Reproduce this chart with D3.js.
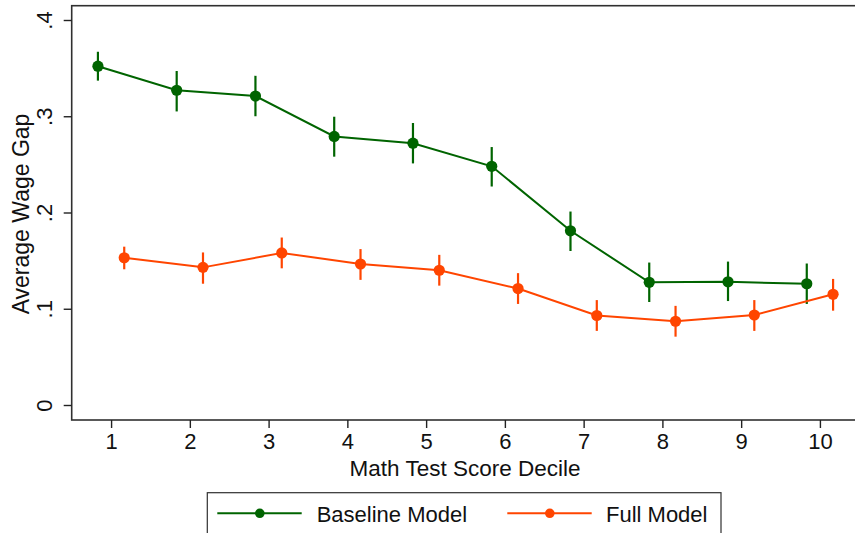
<!DOCTYPE html>
<html>
<head>
<meta charset="utf-8">
<script src="https://cdn.jsdelivr.net/npm/d3@7"></script>
<style>
  html, body { margin: 0; padding: 0; background: #fff; }
  svg { display: block; font-family: "Liberation Sans", Arial, Helvetica, sans-serif; }
</style>
</head>
<body>
<svg id="chart" width="855" height="533"></svg>
<script>
// Average wage gap by math test score decile, two model specifications
const deciles = [1, 2, 3, 4, 5, 6, 7, 8, 9, 10];

const baseline   = [0.352, 0.327, 0.321, 0.279, 0.272, 0.248, 0.181, 0.1275, 0.128, 0.126];
const baselineLo = [0.337, 0.305, 0.300, 0.258, 0.251, 0.227, 0.160, 0.107, 0.108, 0.105];
const baselineHi = [0.367, 0.347, 0.342, 0.2995, 0.293, 0.268, 0.201, 0.148, 0.149, 0.147];

const full   = [0.153, 0.143, 0.158, 0.1465, 0.140, 0.121, 0.093, 0.087, 0.0935, 0.115];
const fullLo = [0.141, 0.126, 0.142, 0.130, 0.124, 0.105, 0.077, 0.071, 0.077, 0.098];
const fullHi = [0.1645, 0.1585, 0.174, 0.162, 0.156, 0.137, 0.109, 0.103, 0.109, 0.131];

const yTicks = [0, 0.1, 0.2, 0.3, 0.4];
const yTickLabels = ["0", ".1", ".2", ".3", ".4"];
const seriesNames = ["Baseline Model", "Full Model"];
const seriesColors = ["#006400", "#ff4500"];

const svg = d3.select("#chart");
const FONT = 22;

const plot = { left: 71.7, top: 5.7, right: 859.3, bottom: 420 };

const x = d3.scaleLinear().domain([0.5, 10.5]).range([plot.left, plot.right]);
const y = d3.scaleLinear().domain([0, 0.4]).range([405, 20]);

// plot region outline
svg.append("rect")
  .attr("x", plot.left).attr("y", plot.top)
  .attr("width", plot.right - plot.left).attr("height", plot.bottom - plot.top)
  .attr("fill", "none").attr("stroke", "#303030").attr("stroke-width", 1.6);

// y axis
const yAxis = svg.append("g")
  .attr("transform", `translate(${plot.left},0)`)
  .call(d3.axisLeft(y).tickValues(yTicks)
    .tickFormat((d, i) => yTickLabels[i]).tickSize(8).tickSizeOuter(0));
yAxis.select(".domain").remove();
yAxis.selectAll(".tick line").attr("stroke", "#222").attr("stroke-width", 1.4);
yAxis.selectAll(".tick text")
  .attr("x", 0).attr("y", 0).attr("dy", 0)
  .attr("transform", "translate(-20,0) rotate(-90)")
  .attr("text-anchor", "middle")
  .attr("font-size", FONT).attr("font-family", "Liberation Sans, Arial, sans-serif")
  .attr("fill", "#111");

// x axis
const xAxis = svg.append("g")
  .attr("transform", `translate(0,${plot.bottom})`)
  .call(d3.axisBottom(x).tickValues(deciles).tickFormat(d3.format("d"))
    .tickSize(8).tickPadding(5).tickSizeOuter(0));
xAxis.select(".domain").remove();
xAxis.selectAll(".tick line").attr("stroke", "#222").attr("stroke-width", 1.4);
xAxis.selectAll(".tick text")
  .attr("font-size", FONT).attr("font-family", "Liberation Sans, Arial, sans-serif")
  .attr("fill", "#111");

// axis titles
svg.append("text")
  .attr("x", 465).attr("y", 475.5)
  .attr("text-anchor", "middle").attr("font-size", 22.5).attr("fill", "#111")
  .text("Math Test Score Decile");

svg.append("text")
  .attr("transform", "translate(28.5,214) rotate(-90)")
  .attr("text-anchor", "middle").attr("font-size", 23).attr("fill", "#111")
  .text("Average Wage Gap");

// series
const OFFSET = 0.167;
const series = [
  { name: seriesNames[0], color: seriesColors[0], shift: -OFFSET, v: baseline, lo: baselineLo, hi: baselineHi },
  { name: seriesNames[1], color: seriesColors[1], shift: OFFSET, v: full, lo: fullLo, hi: fullHi }
];

const line = d3.line().x(d => x(d.x)).y(d => y(d.v));

series.forEach(s => {
  const pts = deciles.map((d, i) => ({ x: d + s.shift, v: s.v[i], lo: s.lo[i], hi: s.hi[i] }));
  const g = svg.append("g");
  g.append("path").datum(pts)
    .attr("d", line).attr("fill", "none")
    .attr("stroke", s.color).attr("stroke-width", 2);
  g.selectAll("line.err").data(pts).enter().append("line")
    .attr("class", "err")
    .attr("x1", d => x(d.x)).attr("x2", d => x(d.x))
    .attr("y1", d => y(d.lo)).attr("y2", d => y(d.hi))
    .attr("stroke", s.color).attr("stroke-width", 2.2);
  g.selectAll("circle").data(pts).enter().append("circle")
    .attr("cx", d => x(d.x)).attr("cy", d => y(d.v))
    .attr("r", 5.6).attr("fill", s.color);
});

// legend
const legend = svg.append("g");
legend.append("rect")
  .attr("x", 207.3).attr("y", 492.7).attr("width", 513.7).attr("height", 60)
  .attr("fill", "#fff").attr("stroke", "#303030").attr("stroke-width", 1.2);

const legendItems = [
  { x0: 217.3, tx: 316.7 },
  { x0: 507.3, tx: 606 }
];
series.forEach((s, i) => {
  const it = legendItems[i];
  const ly = 513.3;
  legend.append("line")
    .attr("x1", it.x0).attr("x2", it.x0 + 84.4)
    .attr("y1", ly).attr("y2", ly)
    .attr("stroke", s.color).attr("stroke-width", 2);
  legend.append("circle")
    .attr("cx", it.x0 + 42.5).attr("cy", ly).attr("r", 4.8).attr("fill", s.color);
  legend.append("text")
    .attr("x", it.tx).attr("y", 521.7)
    .attr("font-size", FONT).attr("fill", "#111")
    .text(s.name);
});
</script>
</body>
</html>
